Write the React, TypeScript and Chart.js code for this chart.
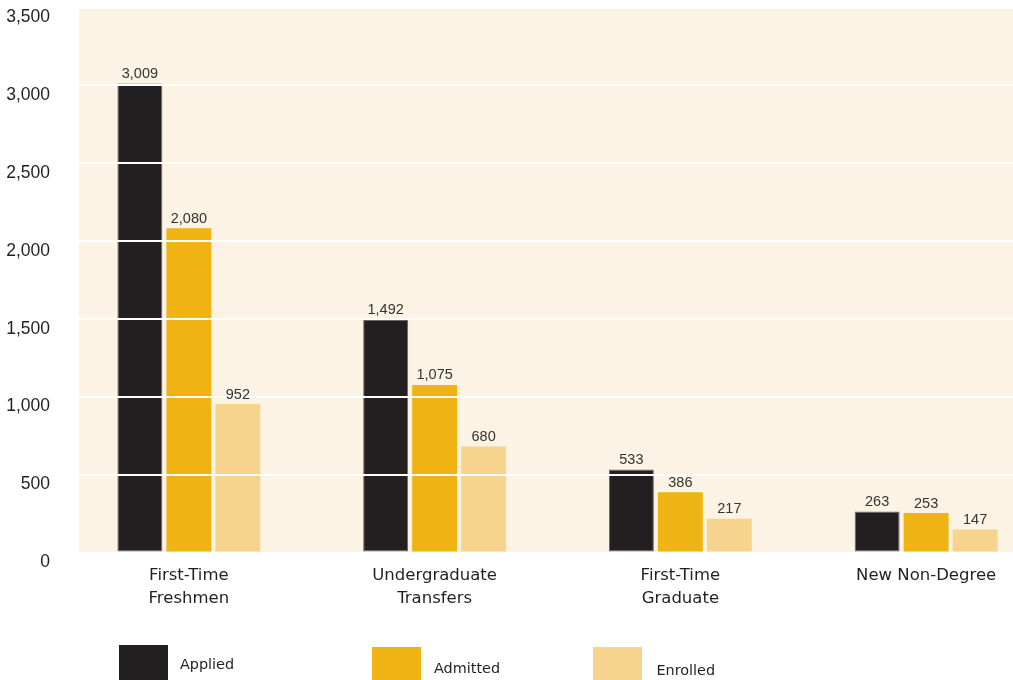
import { useEffect, useRef } from "react";
import { Chart, registerables } from "chart.js";

Chart.register(...registerables);

// ---- data ----
const categories: string[][] = [
  ["First-Time", "Freshmen"],
  ["Undergraduate", "Transfers"],
  ["First-Time", "Graduate"],
  ["New Non-Degree"],
];
const seriesNames = ["Applied", "Admitted", "Enrolled"];
const applied = [3009, 1492, 533, 263];
const admitted = [2080, 1075, 386, 253];
const enrolled = [952, 680, 217, 147];
const yTicks = [0, 500, 1000, 1500, 2000, 2500, 3000, 3500];

// ---- styles ----
const COLORS = ["#231f20", "#f0b314", "#f7d48e"];
const CREAM = "#fcf3e4";
const TEXT = "#231f20";
const LEGEND_LAYOUT = [
  { bx: 119, by: 645, tx: 180, ty: 669 },
  { bx: 372, by: 647, tx: 434, ty: 672.5 },
  { bx: 593, by: 647, tx: 656.5, ty: 675 },
];

const fmt = (v: number) => Number(v).toLocaleString("en-US");

const backgroundPlugin = {
  id: "creamBg",
  beforeDraw(chart: any) {
    const { ctx, chartArea } = chart;
    ctx.save();
    ctx.fillStyle = CREAM;
    const left = chartArea.left + 13;
    ctx.fillRect(left, 9, chart.width - left, chartArea.bottom - 9);
    ctx.restore();
  },
};

const valueLabelPlugin = {
  id: "valueLabels",
  afterDraw(chart: any) {
    const { ctx } = chart;
    ctx.save();
    ctx.font = "14.5px 'Liberation Sans', Arial, sans-serif";
    ctx.fillStyle = "#333333";
    ctx.textAlign = "center";
    ctx.textBaseline = "alphabetic";
    chart.data.datasets.forEach((ds: any, i: number) => {
      const meta = chart.getDatasetMeta(i);
      meta.data.forEach((el: any, j: number) => {
        ctx.fillText(fmt(ds.data[j]), el.x, el.y - 5.5);
      });
    });
    ctx.restore();
  },
};

const legendPlugin = {
  id: "customLegend",
  afterDraw(chart: any) {
    const { ctx } = chart;
    ctx.save();
    ctx.font = "14.4px 'DejaVu Sans', sans-serif";
    ctx.textAlign = "left";
    ctx.textBaseline = "alphabetic";
    chart.data.datasets.forEach((ds: any, i: number) => {
      const L = LEGEND_LAYOUT[i];
      ctx.fillStyle = ds.backgroundColor;
      ctx.fillRect(L.bx, L.by, 49, 40);
      ctx.fillStyle = TEXT;
      ctx.fillText(ds.label, L.tx, L.ty);
    });
    ctx.restore();
  },
};

export default function App() {
  const canvasRef = useRef<HTMLCanvasElement | null>(null);

  useEffect(() => {
    if (!canvasRef.current) return;
    const seriesValues = [applied, admitted, enrolled];
    const chart = new Chart(canvasRef.current, {
      type: "bar",
      data: {
        labels: categories,
        datasets: seriesNames.map((name, i) => ({
          label: name,
          data: seriesValues[i],
          backgroundColor: COLORS[i],
          borderColor: i === 0 ? "#6b6768" : COLORS[i],
          borderWidth: i === 0 ? 1 : 0,
          borderSkipped: false,
          barPercentage: 0.918,
          categoryPercentage: 0.598,
        })),
      },
      options: {
        responsive: false,
        animation: false,
        layout: { padding: { top: 7, right: 11, left: 0, bottom: 0 } },
        plugins: {
          legend: { display: false },
          tooltip: { enabled: false },
        },
        scales: {
          x: {
            type: "category",
            offset: true,
            grid: { display: false },
            border: { display: false },
            ticks: {
              color: TEXT,
              font: { family: "'DejaVu Sans', sans-serif", size: 16.5, lineHeight: 23 / 16.5 },
              padding: 4,
              maxRotation: 0,
              minRotation: 0,
              autoSkip: false,
            },
            afterFit(scale: any) {
              scale.height = 127.5;
              scale.paddingLeft = 0;
              scale.paddingRight = 0;
            },
          },
          y: {
            type: "linear",
            min: 0,
            max: 3500,
            z: 1,
            grid: { color: "#ffffff", lineWidth: 2, drawTicks: false, z: 1 },
            border: { display: false },
            ticks: {
              color: TEXT,
              font: { family: "'Liberation Sans', Arial, sans-serif", size: 17.5 },
              padding: 16,
              labelOffset: 10,
              callback: (v: any) => fmt(v),
            },
            afterBuildTicks(scale: any) {
              scale.ticks = yTicks.map((v) => ({ value: v }));
            },
            afterFit(scale: any) {
              scale.width = 66;
              scale.paddingTop = 0;
              scale.paddingBottom = 0;
            },
          },
        },
      },
      plugins: [backgroundPlugin, valueLabelPlugin, legendPlugin],
    } as any);
    return () => chart.destroy();
  }, []);

  return (
    <div
      style={{
        position: "fixed",
        left: 0,
        top: 0,
        width: 1013,
        height: 680,
        overflow: "hidden",
        background: "#ffffff",
      }}
    >
      <canvas ref={canvasRef} width={1060} height={680} style={{ width: 1060, height: 680, display: "block" }} />
    </div>
  );
}
